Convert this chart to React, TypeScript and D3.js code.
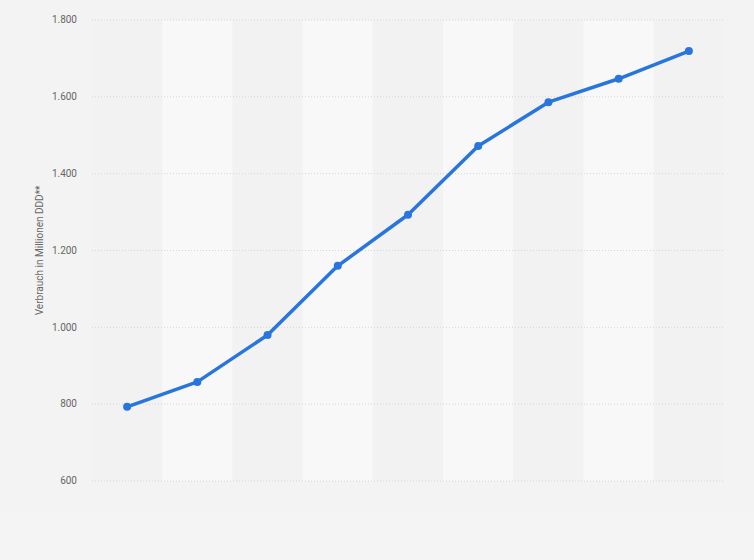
import React from 'react';
import * as d3 from 'd3';

// Werte (Mio. DDD), keine Achsenbeschriftung für x sichtbar
const years = ['1', '2', '3', '4', '5', '6', '7', '8', '9'];
const values = [793, 858, 980, 1160, 1293, 1472, 1586, 1647, 1719];
const yTicks = [600, 800, 1000, 1200, 1400, 1600, 1800];

const W = 754;
const H = 560;
const margin = { top: 20, right: 30, bottom: 79, left: 92 };

const fmt = (v: number) => d3.format(',')(v).replace(/,/g, '.');

const App = () => {
  const innerW = W - margin.left - margin.right;
  const innerH = H - margin.top - margin.bottom;

  const x = d3.scaleBand().domain(years).range([0, innerW]);
  const y = d3.scaleLinear().domain([600, 1800]).range([innerH, 0]);

  const line = d3
    .line<number>()
    .x((_, i) => (x(years[i]) as number) + x.bandwidth() / 2)
    .y((d) => y(d));

  return (
    <svg
      width={W}
      height={H}
      style={{ position: 'absolute', top: 0, left: 0, fontFamily: 'Roboto, Arial, sans-serif' }}
    >
      <rect width={W} height={H} fill="#f3f3f3" />
      <rect y={512} width={W} height={H - 512} fill="#f4f4f4" />
      <g transform={`translate(${margin.left}, ${margin.top})`}>
        {/* Hintergrundstreifen */}
        {years.map((yr, i) => (
          <rect
            key={yr}
            x={x(yr)}
            y={0}
            width={x.bandwidth()}
            height={innerH}
            fill={i % 2 === 1 ? '#f8f8f8' : '#f2f2f2'}
          />
        ))}
        {/* Gitterlinien */}
        {yTicks.map((t) => (
          <g key={t}>
            <line
              x1={0}
              x2={innerW}
              y1={y(t)}
              y2={y(t)}
              stroke="#d6d6d6"
              strokeWidth={1}
              strokeDasharray="1,2"
            />
            <text
              x={-15}
              y={y(t)}
              dy="0.32em"
              textAnchor="end"
              fontSize={10}
              fill="#666"
            >
              {fmt(t)}
            </text>
          </g>
        ))}
        <path d={line(values) || ''} fill="none" stroke="#2876dd" strokeWidth={3.5} strokeLinejoin="round" />
        {values.map((v, i) => (
          <circle
            key={i}
            cx={(x(years[i]) as number) + x.bandwidth() / 2}
            cy={y(v)}
            r={4}
            fill="#2876dd"
          />
        ))}
      </g>
      <text
        transform={`translate(43, ${margin.top + innerH / 2}) rotate(-90)`}
        textAnchor="middle"
        fontSize={10}
        fill="#666"
      >
        Verbrauch in Millionen DDD**
      </text>
    </svg>
  );
};

export default App;
